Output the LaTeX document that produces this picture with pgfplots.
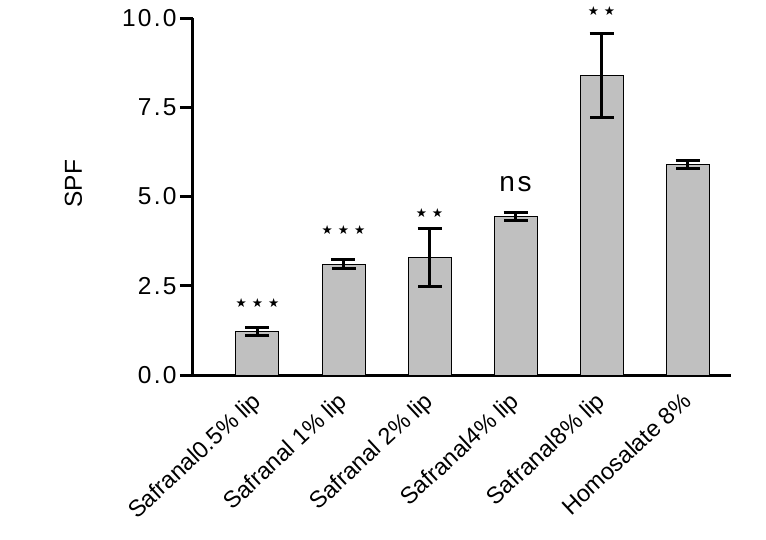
\documentclass[border=0pt]{standalone}
\usepackage{fontspec}
\setmainfont{Liberation Sans}
\newfontfamily\spaced[LetterSpace=9]{Liberation Sans}
\newfontfamily\djv{DejaVu Sans}
\usepackage{pgfplots}
\pgfplotsset{compat=1.18}
\usepackage{pgfplotstable}
\definecolor{bargray}{RGB}{192,192,192}
\pgfplotstableread{
x y e
0 1.22 0.10
1 3.10 0.13
2 3.29 0.82
3 4.43 0.11
4 8.38 1.18
5 5.90 0.12
}\spf
\newcommand{\bigf}{\fontsize{24.5}{28}\selectfont}
\newcommand{\xf}{\fontsize{23.5}{27}\selectfont}
\newcommand{\stars}[1]{{\djv\fontsize{12.5}{14}\selectfont #1}}
\begin{document}
\begin{tikzpicture}
\path[use as bounding box] (-193pt,-164pt) rectangle (573pt,375pt);
\begin{axis}[
  x=86pt, y=35.7pt,
  xmin=-0.75, xmax=5.5, ymin=0, ymax=10,
  axis x line=bottom, axis y line=left,
  axis line style={line width=3pt, -},
  xtick={0,...,5},
  xticklabels={Safranal0.5\% lip, Safranal 1\% lip, Safranal 2\% lip, Safranal4\% lip, Safranal8\% lip, Homosalate 8\%},
  xtick style={draw=none},
  xticklabel style={xshift=5pt, yshift=-15pt, rotate=43, anchor=base east, font=\xf, inner sep=0pt},
  ytick={0,2.5,5,7.5,10},
  yticklabels={0.0,2.5,5.0,7.5,10.0},
  yticklabel style={font=\bigf\spaced},
  ytick style={line width=3pt, black},
  tick align=outside,
  major tick length=13pt,
  clip=false,
]
\addplot[ybar, bar width=43pt, fill=bargray, draw=black, line width=1pt,
  error bars/.cd, y dir=both, y explicit,
  error bar style={line width=3pt, black},
  error mark options={rotate=90, mark size=12pt, line width=3pt, black}]
  table[x=x, y=y, y error=e] {\spf};
\node[rotate=90, font=\bigf] at ([xshift=-119.5pt]axis cs:-0.75,5.36) {SPF};
\node[inner sep=0pt] at (axis cs:0,2.02) {\stars{★\hspace{5pt}★\hspace{5pt}★}};
\node[inner sep=0pt] at (axis cs:1,4.06) {\stars{★\hspace{5pt}★\hspace{5pt}★}};
\node[inner sep=0pt] at (axis cs:2,4.54) {\stars{★\hspace{5pt}★}};
\node[inner sep=0pt, anchor=base, font=\fontsize{28}{32}\selectfont\spaced] at (axis cs:3,5.13) {ns};
\node[inner sep=0pt] at (axis cs:4,10.2) {\stars{★\hspace{5pt}★}};
\end{axis}
\end{tikzpicture}
\end{document}
